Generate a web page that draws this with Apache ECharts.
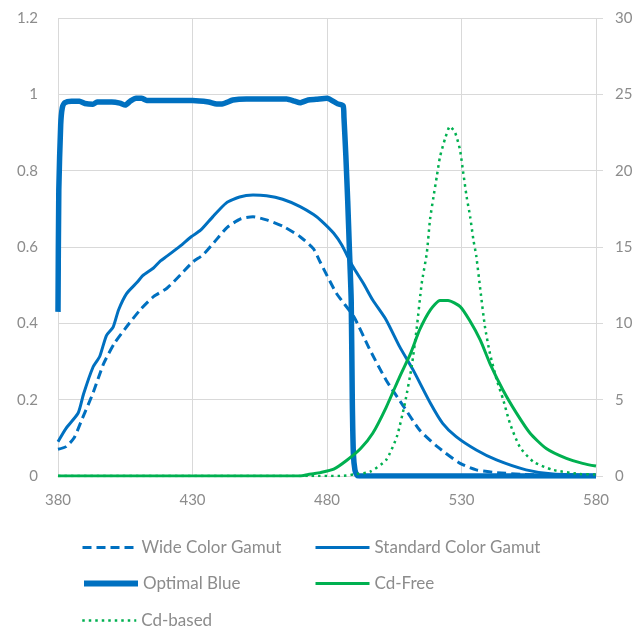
<!DOCTYPE html>
<html><head><meta charset="utf-8">
<script src="https://cdn.jsdelivr.net/npm/echarts@6/dist/echarts.min.js"></script>
<style>html,body{margin:0;padding:0;background:#fff}#c{width:640px;height:628px}</style>
</head><body><div id="c"></div>
<script>
const seriesNames = ['Wide Color Gamut','Standard Color Gamut','Optimal Blue','Cd-Free','Cd-based'];
const xTicks = [380, 430, 480, 530, 580];
const leftTicks = [0, 0.2, 0.4, 0.6, 0.8, 1, 1.2];
const rightTicks = [0, 5, 10, 15, 20, 25, 30];

const wideX = [380,383,386,389,393,397,401,405.5,410.5,415.5,420.5,425.5,430,434,438,443,448,452.5,457.5,464,470,475,477.5,483.5,490,496,502,508.5,514.5,521,529.5,535.5,543,553,565,580];
const wideY = [0.07,0.077,0.1,0.15,0.217,0.295,0.348,0.391,0.435,0.47,0.492,0.527,0.56,0.58,0.612,0.652,0.674,0.679,0.671,0.653,0.627,0.595,0.56,0.479,0.417,0.33,0.251,0.182,0.12,0.077,0.033,0.016,0.009,0.004,0.002,0.001];

const stdX = [380,383,387.5,389.5,393,395.5,398,400.5,402.5,405.5,409.5,411.5,415.5,418,420.5,425.5,429.5,433,437.5,442.5,447.5,452.5,457.5,463.5,470,475,478,482.5,485.5,489.5,493.5,497,502,507,512,518.5,523,528,535.5,543,554,564,580];
const stdY = [0.09,0.125,0.165,0.215,0.285,0.313,0.368,0.39,0.435,0.478,0.508,0.525,0.545,0.563,0.576,0.603,0.627,0.644,0.679,0.715,0.731,0.736,0.734,0.725,0.706,0.685,0.668,0.636,0.605,0.55,0.505,0.461,0.409,0.339,0.278,0.19,0.138,0.103,0.068,0.042,0.016,0.005,0.002];

const optX = [380,380.3,381,381.6,382.5,385,388,390,393,394.5,396,400,403,405,407,409,411,413,420,430,436,439,441,445,450,455,460,465,468,470,473,476,480,484,486,486.3,487,487.7,488.3,489,489.4,489.8,490.4,491.2,492,500,520,540,560,580];
const optY = [0.43,0.75,0.92,0.965,0.978,0.982,0.982,0.976,0.974,0.98,0.98,0.98,0.977,0.972,0.983,0.99,0.99,0.984,0.984,0.984,0.98,0.975,0.975,0.985,0.988,0.988,0.988,0.988,0.982,0.978,0.985,0.987,0.99,0.975,0.97,0.94,0.84,0.72,0.6,0.46,0.2,0.06,0.015,0.002,0,0,0,0,0,0];

const cdFreeX = [380,470,473,475,477.5,482.5,487.5,492.5,497,502,507,511,514.5,518.5,522,525,529.5,533,537,540.5,545.5,550.5,555.5,561.5,569,575,580];
const cdFreeY = [0,0,0.1,0.15,0.22,0.45,1.05,1.8,2.8,4.5,6.5,8.0,9.6,10.9,11.5,11.5,11.1,10.2,8.9,7.4,5.6,4.1,2.8,1.8,1.15,0.83,0.65];

const cdBasedX = [380,485,490,496,502,506,509,511.5,513.3,515.2,517.1,518.3,519.6,520.8,522,523.9,525.7,527.6,529.4,530.7,531.9,533.2,534.4,535.5,537,538.7,540.6,543.1,545.5,548,551.7,556.7,564,574,580];
const cdBasedY = [0,0,0.1,0.28,1.05,2.6,4.8,7.2,9.6,12.6,14.6,16.8,18.3,19.6,20.9,22.1,22.9,22.5,21.4,19.8,18.3,17.0,15.5,14.4,12.2,9.8,8.0,6.3,5.0,3.45,1.9,0.94,0.4,0.13,0.1];

const zip = (xs, ys) => xs.map((x, i) => [x, ys[i]]);
const BLUE = '#0070C0', GREEN = '#00B050', TXT = '#8c8c8c', GRID = '#d9d9d9';
const FONT = 'Lato';

const chart = echarts.init(document.getElementById('c'), null, {renderer: 'canvas'});
const lineSeries = (name, data, color, width, type, cap, yIdx, z) => ({
  name, type: 'line', data, yAxisIndex: yIdx, showSymbol: false, symbol: 'none',
  smooth: 0.2, z, lineStyle: {color, width, type, cap},
  itemStyle: {color}, animation: false
});
const legendAt = (name, left, top, width) => ({
  orient: 'horizontal', left, top, padding: 0, itemWidth: 54, itemHeight: 14, itemGap: 6,
  textStyle: {color: TXT, fontFamily: FONT, fontSize: 17},
  data: [{name, itemStyle: {opacity: 0}, lineStyle: {width}}]
});

chart.setOption({
  animation: false,
  grid: {left: 58, right: 44, top: 18, bottom: 152},
  xAxis: {
    type: 'value', min: xTicks[0], max: xTicks[xTicks.length - 1], interval: 50,
    axisLine: {show: true, lineStyle: {color: GRID, width: 1}},
    axisTick: {show: false},
    splitLine: {show: true, lineStyle: {color: GRID, width: 1}},
    axisLabel: {color: TXT, fontFamily: FONT, fontSize: 15, margin: 17,
      formatter: v => xTicks.includes(v) ? String(v) : ''}
  },
  yAxis: [{
    type: 'value', min: 0, max: 1.2, interval: 0.2, position: 'left',
    axisLine: {show: false}, axisTick: {show: false},
    splitLine: {show: true, lineStyle: {color: GRID, width: 1}},
    axisLabel: {color: TXT, fontFamily: FONT, fontSize: 15, margin: 20,
      formatter: v => { const t = leftTicks.find(k => Math.abs(k - v) < 1e-9); return t === undefined ? '' : String(t); }}
  }, {
    type: 'value', min: 0, max: 30, interval: 5, position: 'right',
    axisLine: {show: false},
    axisTick: {show: true, length: 7, lineStyle: {color: GRID}},
    splitLine: {show: false},
    axisLabel: {color: TXT, fontFamily: FONT, fontSize: 15, margin: 19,
      formatter: v => rightTicks.includes(v) ? String(v) : ''}
  }],
  legend: [
    legendAt(seriesNames[0], 81, 539, 3),
    legendAt(seriesNames[1], 314, 539, 3),
    legendAt(seriesNames[2], 81, 575, 6),
    legendAt(seriesNames[3], 314, 575, 3),
    legendAt(seriesNames[4], 81, 612, 2.5)
  ],
  series: [
    lineSeries(seriesNames[0], zip(wideX, wideY), BLUE, 3, [9, 5], 'butt', 0, 2),
    lineSeries(seriesNames[1], zip(stdX, stdY), BLUE, 3, 'solid', 'butt', 0, 3),
    lineSeries(seriesNames[2], zip(optX, optY), BLUE, 5.5, 'solid', 'butt', 0, 4),
    lineSeries(seriesNames[3], zip(cdFreeX, cdFreeY), GREEN, 3, 'solid', 'butt', 1, 5),
    lineSeries(seriesNames[4], zip(cdBasedX, cdBasedY), GREEN, 2.5, [2.5, 4], 'butt', 1, 6)
  ]
});
</script></body></html>
